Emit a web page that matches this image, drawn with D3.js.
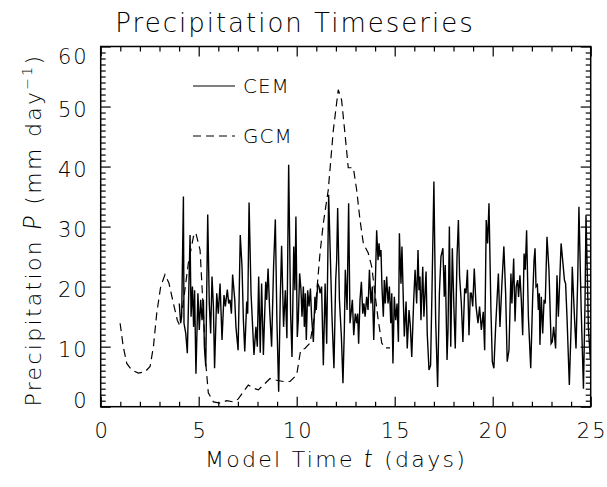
<!DOCTYPE html>
<html>
<head>
<meta charset="utf-8">
<script src="https://cdn.jsdelivr.net/npm/d3@7"></script>
<style>
  body { margin: 0; background: #fff; }
  text { font-family: "DejaVu Sans", sans-serif; fill: #000; }
  .kurziv { font-family: "Lato", sans-serif; font-style: italic; font-weight: 300; }
</style>
</head>
<body>
<div id="chart"></div>
<script>
// CEM (solid) : day, precipitation (mm/day)
const cemDay = [4.01,4.08,4.13,4.22,4.25,4.34,4.42,4.56,4.61,4.68,4.74,4.79,4.86,4.96,5.03,5.10,5.17,5.24,5.29,5.36,
  5.46,5.54,5.61,5.68,5.75,5.81,5.92,6.00,6.09,6.19,6.29,6.36,6.46,6.53,6.60,6.67,6.73,6.84,6.90,7.01,
  7.07,7.12,7.21,7.28,7.35,7.45,7.50,7.57,7.67,7.82,7.92,7.99,8.06,8.14,8.21,8.30,8.42,8.47,8.54,8.62,
  8.72,8.82,8.91,8.99,9.08,9.16,9.23,9.33,9.42,9.50,9.59,9.69,9.76,9.85,9.91,9.96,10.03,10.08,10.15,10.22,
  10.27,10.34,10.39,10.44,10.49,10.56,10.63,10.70,10.76,10.85,10.93,11.00,11.07,11.14,11.19,11.27,11.36,11.45,11.53,11.63,
  11.80,11.90,11.99,12.04,12.09,12.18,12.28,12.36,12.43,12.48,12.57,12.65,12.72,12.79,12.84,12.91,12.99,13.06,13.11,13.16,
  13.23,13.30,13.37,13.43,13.49,13.57,13.64,13.71,13.79,13.86,13.93,13.99,14.08,14.15,14.20,14.25,14.30,14.35,14.42,14.47,
  14.52,14.59,14.66,14.73,14.80,14.85,14.91,14.98,15.05,15.12,15.19,15.24,15.32,15.37,15.44,15.49,15.58,15.64,15.73,15.80,
  15.87,15.97,16.04,16.12,16.19,16.24,16.29,16.34,16.43,16.49,16.60,16.66,16.75,16.83,16.90,17.00,17.09,17.19,17.28,17.36,
  17.46,17.53,17.58,17.67,17.72,17.79,17.86,17.94,18.03,18.09,18.18,18.25,18.31,18.40,18.48,18.57,18.64,18.71,18.79,18.86,
  18.91,18.98,19.06,19.15,19.25,19.33,19.42,19.52,19.59,19.67,19.74,19.81,19.91,19.98,20.06,20.15,20.29,20.37,20.47,20.57,
  20.66,20.74,20.83,20.93,20.98,21.07,21.14,21.20,21.27,21.32,21.39,21.46,21.53,21.60,21.66,21.73,21.82,21.94,22.04,22.11,
  22.16,22.21,22.28,22.33,22.38,22.41,22.48,22.55,22.62,22.68,22.77,22.87,22.98,23.04,23.11,23.21,23.28,23.35,23.49,23.57,
  23.66,23.72,23.79,23.91,24.00,24.06,24.17,24.25,24.34,24.40,24.51,24.63,24.71,24.76,24.83,24.88,24.98];
const cemPrecip = [17.2,13.9,15,35,13.9,12.2,8.9,28.6,15,20,13.3,19.4,5.5,18.9,12.8,17.8,14.4,17.8,10,6.7,
  32,17.2,12.2,21.7,16.7,6.4,18.9,15.5,20.5,11.1,18.6,16.7,19.5,17.2,17.8,15.5,22,17.8,13.3,9.4,
  19.4,28.6,23.3,14.4,9.2,17.5,15.5,34,18.9,8.6,13.3,10,21.7,9,20.5,8.6,20.8,17.8,23,16.1,
  10,23.3,31.2,14.4,2.5,17.8,26.8,13.3,19.4,11.4,40.3,15.5,8.3,26.7,19.4,31.7,11.6,14.4,22.2,19.4,
  15,20,13.3,18.9,11.1,19.4,16.7,19.7,15,10.8,18.3,16.1,20.5,20,18.9,20,6.9,20.5,10.5,35.3,
  15,6.4,21.1,24.4,33.1,17.8,11.7,3.9,12.8,22.8,16.1,33.9,13.9,16.1,17.8,11.9,15.5,13.9,15.5,10.5,
  17.8,20.8,15.5,17.2,15,18.3,16.1,22.8,17.2,20,11.1,17.8,29.4,24.4,27.2,25,26.1,20,15,21.1,
  17.2,21.7,17.2,20,13.9,18.9,7.2,18.3,14.4,17.2,10.8,28.9,20.5,26.7,17.8,11.7,17.5,9.7,16.1,13.3,
  8.3,17.8,22.8,17.2,26.1,19.4,21.7,14.4,23.3,15,22.5,12.2,6.1,6.9,18.9,37.5,14.4,3.3,18.9,25,
  26.4,18.3,23.6,7.8,12.8,30,10,26.4,15.5,9.7,25,31.1,21.7,17.2,10.8,19.7,18.9,22.8,11.9,18.9,
  18.9,16.7,23,16.7,13.9,16.7,12.8,15.8,9.4,31.1,27.2,33.9,16.1,7.5,6.4,13.3,22.2,13.3,20.5,26.7,
  18.9,7.5,9.4,22.2,17.2,24.7,14.2,20,21.1,18.3,21.9,17.8,11.9,25.5,22.8,29.4,15,6.4,18.3,24.4,
  26.4,20,20.3,16.1,18.9,10.3,18.3,12.2,17.8,17.2,28.3,22.8,10.5,10.8,13.3,9.7,21.9,15,27.2,24.4,
  21.1,20.5,15,3.6,13.3,23.3,15,9.7,21.7,33.3,16.7,3.0,17.2,31.9,21.7,13.3,8];

// GCM (dashed)
const gcmDay = [0.99,1.15,1.33,1.58,1.92,2.26,2.52,2.69,2.86,3.06,3.28,3.48,3.71,3.91,4.02,4.20,4.47,4.73,4.85,5.07,
  5.24,5.36,5.49,5.75,6.09,6.43,6.77,7.02,7.28,7.53,7.79,8.04,8.30,8.64,8.98,9.32,9.66,10.0,10.2,10.42,
  10.68,10.93,11.19,11.36,11.61,11.87,12.12,12.29,12.46,12.63,12.89,13.06,13.23,13.40,13.65,13.83,13.99,14.16,14.34,14.50,14.76];
const gcmPrecip = [13.9,10,7.2,6.1,5.6,5.8,6.7,10,15.6,20,22,20.6,17.2,14.4,13.6,17,23.9,28.3,29,26.1,
  15.6,7.3,2.3,0.8,0.6,1,0.8,1.3,2.5,3.6,3.1,2.8,3.6,4.7,4.4,4.2,4.2,5.3,9.4,9.7,
  10.6,15.6,25.6,30.6,36.1,46.1,52.8,51.1,45.6,39.8,39.8,36.1,31.1,27.2,25.6,23.3,18.9,14.4,10.6,9.8,9.8];

const xTicks = [0, 5, 10, 15, 20, 25];
const yTicks = [0, 10, 20, 30, 40, 50, 60];
const seriesNames = ["CEM", "GCM"];

const sirina = 607, visina = 487;
const okvir = {left: 100.7, right: 590.7, top: 46.5, bottom: 406.7};

const svg = d3.select("#chart").append("svg")
  .attr("width", sirina)
  .attr("height", visina);

const x = d3.scaleLinear().domain([0, 25]).range([okvir.left, okvir.right]);
const y = d3.scaleLinear().domain([0, 60]).range([okvir.bottom, okvir.top]);

const minorX = d3.range(0, 26, 1).filter(d => d % 5 !== 0);
const minorY = d3.range(0, 61, 1).filter(d => d % 10 !== 0);

function osi(g) {
  g.selectAll(".domain").remove();
  g.selectAll(".tick line").attr("stroke", "#000").attr("stroke-width", 1.2);
}

// bottom
svg.append("g").attr("transform", `translate(0,${okvir.bottom})`)
  .call(d3.axisBottom(x).tickValues(xTicks).tickSize(-10).tickPadding(16).tickFormat(d3.format("d")))
  .call(osi)
  .selectAll("text").attr("font-size", 21).attr("font-weight", 200).attr("letter-spacing", 2).attr("dx", 1);
svg.append("g").attr("transform", `translate(0,${okvir.bottom})`)
  .call(d3.axisBottom(x).tickValues(minorX).tickSize(-5).tickFormat(""))
  .call(osi);
// top
svg.append("g").attr("transform", `translate(0,${okvir.top})`)
  .call(d3.axisTop(x).tickValues(xTicks).tickSize(-10).tickFormat(""))
  .call(osi);
svg.append("g").attr("transform", `translate(0,${okvir.top})`)
  .call(d3.axisTop(x).tickValues(minorX).tickSize(-5).tickFormat(""))
  .call(osi);
// left
svg.append("g").attr("transform", `translate(${okvir.left},0)`)
  .call(d3.axisLeft(y).tickValues(yTicks).tickSize(-10).tickPadding(12).tickFormat(d3.format("d")))
  .call(osi)
  .selectAll("text")
  .attr("font-size", 21).attr("font-weight", 200).attr("letter-spacing", 2)
  .attr("y", d => d === 0 ? -6 : d === 60 ? 10 : 3);
svg.append("g").attr("transform", `translate(${okvir.left},0)`)
  .call(d3.axisLeft(y).tickValues(minorY).tickSize(-5).tickFormat(""))
  .call(osi);
// right
svg.append("g").attr("transform", `translate(${okvir.right},0)`)
  .call(d3.axisRight(y).tickValues(yTicks).tickSize(-10).tickFormat(""))
  .call(osi);
svg.append("g").attr("transform", `translate(${okvir.right},0)`)
  .call(d3.axisRight(y).tickValues(minorY).tickSize(-5).tickFormat(""))
  .call(osi);

svg.append("rect")
  .attr("x", okvir.left).attr("y", okvir.top)
  .attr("width", okvir.right - okvir.left)
  .attr("height", okvir.bottom - okvir.top)
  .attr("fill", "none").attr("stroke", "#000").attr("stroke-width", 1.5);

svg.append("clipPath").attr("id", "clip")
  .append("rect")
  .attr("x", okvir.left).attr("y", okvir.top)
  .attr("width", okvir.right - okvir.left)
  .attr("height", okvir.bottom - okvir.top);

const linija = d3.line().x(d => x(d[0])).y(d => y(d[1]));

const gcm = d3.zip(gcmDay, gcmPrecip);
const cem = d3.zip(cemDay, cemPrecip);

const plot = svg.append("g").attr("clip-path", "url(#clip)");
plot.append("path")
  .attr("d", linija(gcm))
  .attr("fill", "none").attr("stroke", "#000")
  .attr("stroke-width", 1.2).attr("stroke-dasharray", "8,5");
plot.append("path")
  .attr("d", linija(cem))
  .attr("fill", "none").attr("stroke", "#000")
  .attr("stroke-width", 1.4).attr("stroke-linejoin", "miter");

// legend
const legenda = svg.selectAll(".legend")
  .data(seriesNames)
  .enter()
  .append("g")
  .attr("class", "legend")
  .attr("transform", (d, i) => `translate(193,${86 + i * 50})`);
legenda.append("line")
  .attr("x1", 0).attr("x2", 42)
  .attr("stroke", "#000").attr("stroke-width", 1.2)
  .attr("stroke-dasharray", (d, i) => i === 0 ? null : "8,5");
legenda.append("text")
  .attr("x", 50).attr("y", 7)
  .attr("font-size", 20).attr("font-weight", 200).attr("letter-spacing", 1)
  .text(d => d);

// title
svg.append("text")
  .attr("x", 295).attr("y", 32)
  .attr("text-anchor", "middle")
  .attr("font-size", 26).attr("font-weight", 200).attr("letter-spacing", 2)
  .text("Precipitation Timeseries");

// x title
const xt = svg.append("text")
  .attr("x", 336).attr("y", 467)
  .attr("text-anchor", "middle")
  .attr("font-size", 22).attr("font-weight", 200).attr("letter-spacing", 2.3);
xt.append("tspan").text("Model Time ");
xt.append("tspan").attr("class", "kurziv").attr("font-size", 25).text("t");
xt.append("tspan").text(" (days)");

// y title
const yt = svg.append("text")
  .attr("transform", "translate(41,230) rotate(-90)")
  .attr("text-anchor", "middle")
  .attr("font-size", 22).attr("font-weight", 200).attr("letter-spacing", 2.3);
yt.append("tspan").text("Precipitation ");
yt.append("tspan").attr("class", "kurziv").attr("font-size", 25).text("P");
yt.append("tspan").text(" (mm day");
yt.append("tspan").attr("dy", -9).attr("font-size", 14).text("−1");
yt.append("tspan").attr("dy", 9).text(")");
</script>
</body>
</html>
